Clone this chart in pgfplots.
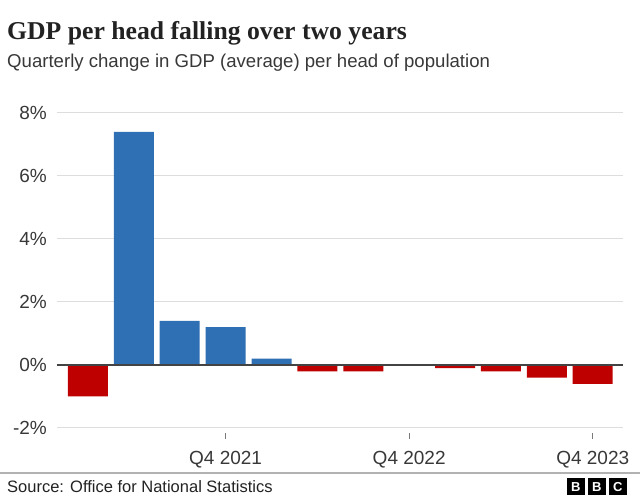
\documentclass[border=0pt]{standalone}
\usepackage{pgfplots}
\pgfplotsset{compat=1.18}
\usepackage{fontspec}
\setmainfont{Liberation Sans}
\newfontfamily\headfont{Liberation Serif}
\definecolor{bbcblue}{HTML}{2F6FB3}
\definecolor{bbcred}{HTML}{BE0000}
\definecolor{gridgrey}{HTML}{DDDDDD}
\definecolor{txt}{HTML}{222222}

\begin{document}
\begin{tikzpicture}[x=1bp,y=1bp]
\path[use as bounding box] (0,0) rectangle (640,499);

% title block
\node[anchor=base west, inner sep=0pt, text=txt] at (7,459.7)
  {\headfont\bfseries\fontsize{25.7bp}{28bp}\selectfont GDP per head falling over two years};
\node[anchor=base west, inner sep=0pt, text=txt!90] at (7,431)
  {\fontsize{18.6bp}{21bp}\selectfont Quarterly change in GDP (average) per head of population};

\begin{axis}[
  at={(57bp,71bp)}, anchor=south west,
  scale only axis, width=566bp, height=315bp,
  xmin=-0.675, xmax=11.66, ymin=-2, ymax=8,
  ytick={-2,0,...,8},
  ymajorgrids, grid style={gridgrey, line width=1bp},
  axis line style={draw=none},
  ytick style={draw=none},
  xtick={3,7,11}, xticklabels={Q4 2021,Q4 2022,Q4 2023},
  xtick pos=bottom, tick align=outside, major tick length=6bp,
  xtick style={yshift=-5bp, draw=txt!60, line width=0.8bp},
  yticklabel={\pgfmathprintnumber{\tick}\%},
  /pgf/number format/assume math mode=true,
  ticklabel style={font=\fontsize{19bp}{22bp}\selectfont, text=txt!90, inner sep=0pt},
  yticklabel style={anchor=east, xshift=-4bp},
  xticklabel style={anchor=base, yshift=-31bp},
  ybar, bar width=40bp, bar shift=0pt,
  clip=false,
]
% rises
\addplot[draw=none, fill=bbcblue] coordinates {
  (1,7.4) (2,1.4) (3,1.2) (4,0.2)
};
% falls
\addplot[draw=none, fill=bbcred] coordinates {
  (0,-1.0) (5,-0.2) (6,-0.2) (8,-0.1) (9,-0.2) (10,-0.4) (11,-0.6)
};
\draw[txt!85, line width=1.2bp] (axis cs:-0.675,0) -- (axis cs:11.66,0);
\end{axis}

% footer
\draw[black!30, line width=1.5bp] (0,26) -- (640,26);
\node[anchor=base west, inner sep=0pt, text=txt] at (7,6.5)
  {\fontsize{16.5bp}{18bp}\selectfont Source: Office for National Statistics};
\foreach \x/\l in {567/B,588/B,609/C}{
  \fill[black] (\x,3.5) rectangle ++(17.5,17);
  \node[text=white, inner sep=0pt] at (\x+8.75,12)
    {\bfseries\fontsize{13bp}{15bp}\selectfont \l};
}
\end{tikzpicture}
\end{document}
